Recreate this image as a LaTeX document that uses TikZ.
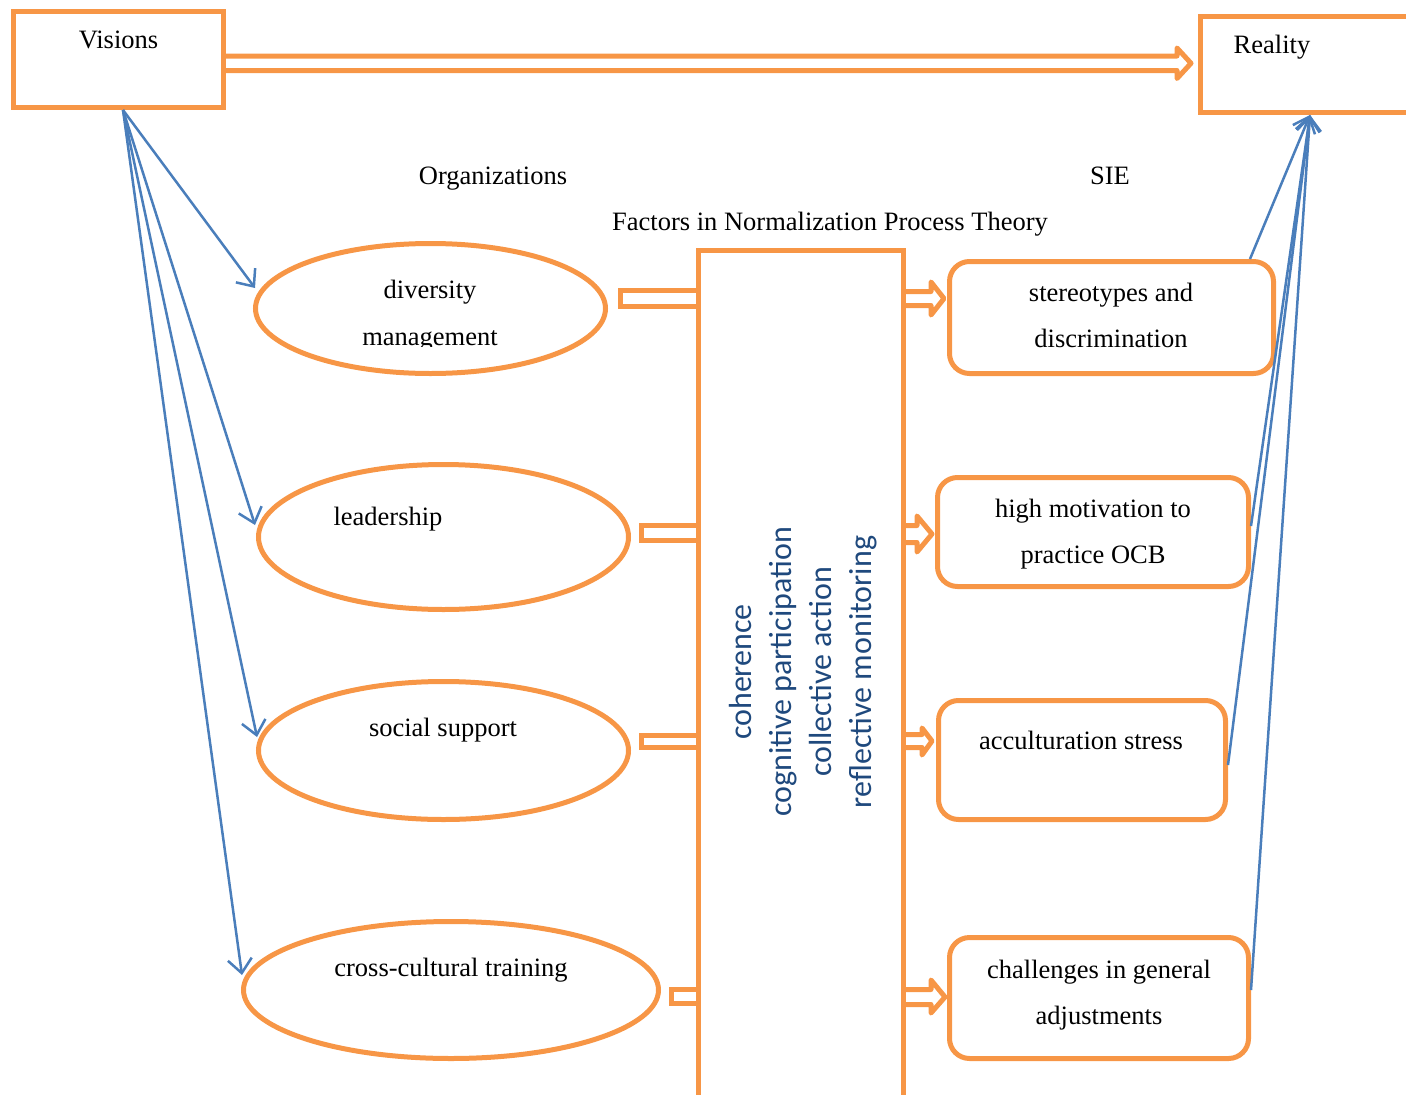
\documentclass[tikz,border=0pt]{standalone}
\usepackage{fontspec}
\setmainfont{Liberation Serif}
\newfontfamily\calib{Carlito}
\usetikzlibrary{shapes.geometric,arrows.meta,calc}
\definecolor{org}{HTML}{F79646}
\definecolor{lnblue}{HTML}{4A7EBB}
\definecolor{txtblue}{HTML}{1F497D}
\begin{document}
\begin{tikzpicture}[x=1pt,y=-1pt,
  box/.style={draw=org,line width=5pt,rectangle,inner sep=0pt},
  rbox/.style={box,rounded corners=20pt},
  ell/.style={draw=org,line width=5pt,ellipse,inner sep=0pt},
  lbl/.style={anchor=base,inner sep=0pt,font=\fontsize{26.5}{32}\selectfont},
  conn/.style={draw=lnblue,line width=2.5pt,-{Straight Barb[length=14pt,width=24pt,line width=2.5pt]}},
  blockarrow/.style={draw=org,line width=5pt,line join=round}
]
\useasboundingbox (0,0) rectangle (1406,1095);
\clip (0,0) rectangle (1406,1095);

% top boxes
\node[box,minimum width=210pt,minimum height=96pt] (vis) at (118.5,59.5) {};
\node[lbl] (visT) at (118.5,48) {Visions};
\node[box,minimum width=219pt,minimum height=96pt] (real) at (1310,64.5) {};
\node[lbl] (realT) at (1272,53) {Reality};

% headings
\node[lbl] (orgT) at (493,184) {Organizations};
\node[lbl] (sieT) at (1110,184) {SIE};
\node[lbl] (facT) at (830,230) {Factors in Normalization Process Theory};

% Visions -> Reality outlined arrow
\draw[blockarrow] (223.5,56) -- (1177,56) -- (1177,48) -- (1191,63.25) -- (1177,78.5) -- (1177,70.5) -- (223.5,70.5);

% central box
\node[box,minimum width=205pt,minimum height=852pt] (npt) at (801,676) {};
\node[rotate=90,align=center,text=txtblue,inner sep=0pt,font=\calib\fontsize{32}{40}\selectfont] (nptT) at (803,672)
  {coherence\\cognitive participation\\collective action\\reflective monitoring};

% ellipses
\node[ell,minimum width=350pt,minimum height=130pt] (dm) at (430.5,308.5) {};
\begin{scope}
\clip (250,250) rectangle (610,346.5);
\node[lbl] (dmT1) at (430,298) {diversity};
\node[lbl] (dmT2) at (430,345) {management};
\end{scope}
\node[ell,minimum width=370pt,minimum height=145pt] (ld) at (443.5,537) {};
\node[lbl] (ldT) at (388,525) {leadership};
\node[ell,minimum width=370pt,minimum height=138pt] (ss) at (443.5,750.5) {};
\node[lbl] (ssT) at (443,736) {social support};
\node[ell,minimum width=415pt,minimum height=137pt] (cc) at (451,990) {};
\node[lbl] (ccT) at (451,976) {cross-cultural training};

% left connectors (ellipse -> central box)
\node[box,minimum width=78pt,minimum height=16pt] (c1) at (659.5,298.5) {};
\node[box,minimum width=57pt,minimum height=15pt] (c2) at (670,533) {};
\node[box,minimum width=57pt,minimum height=12pt] (c3) at (670,741.5) {};
\node[box,minimum width=27pt,minimum height=14pt] (c4) at (685,996.5) {};

% right rounded boxes
\node[rbox,minimum width=324pt,minimum height=112pt] (st) at (1111.5,317.5) {};
\node[lbl] (stT1) at (1111,301) {stereotypes and};
\node[lbl] (stT2) at (1111,347) {discrimination};
\node[rbox,minimum width=311pt,minimum height=109pt] (hm) at (1093,532) {};
\node[lbl] (hmT1) at (1093,517) {high motivation to};
\node[lbl] (hmT2) at (1093,563) {practice OCB};
\node[rbox,minimum width=287pt,minimum height=119pt] (ac) at (1082,760) {};
\node[lbl] (acT) at (1081,749) {acculturation stress};
\node[rbox,minimum width=299pt,minimum height=121pt] (ch) at (1099,998) {};
\node[lbl] (chT1) at (1099,978) {challenges in general};
\node[lbl] (chT2) at (1099,1024) {adjustments};

% right outlined arrows (central box -> boxes)
\draw[blockarrow] (903.5,291.5) -- (931,291.5) -- (931,282) -- (944,298.5) -- (931,315) -- (931,305.5) -- (903.5,305.5);
\draw[blockarrow] (903.5,525.5) -- (917,525.5) -- (917,516) -- (932,534) -- (917,552) -- (917,542.5) -- (903.5,542.5);
\draw[blockarrow] (903.5,734.5) -- (922,734.5) -- (922,728) -- (932,741) -- (922,755) -- (922,747.5) -- (903.5,747.5);
\draw[blockarrow] (903.5,989.5) -- (931,989.5) -- (931,980) -- (945,997) -- (931,1013) -- (931,1004.5) -- (903.5,1004.5);

% blue connectors
\coordinate (vS) at ($(vis.south)+(4.5,0)$);
\coordinate (dmIn) at (255,288);
\coordinate (ldIn) at (255,525);
\coordinate (ssIn) at (257,737);
\coordinate (ccIn) at (242,975);
\draw[conn] (vS) -- (dmIn);
\draw[conn] (vS) -- (ldIn);
\draw[conn] (vS) -- (ssIn);
\draw[conn] (vS) -- (ccIn);

\draw[conn] ($(st.north east)+(-26,0)$) -- (real.south);
\draw[conn] ($(hm.east)+(0,-6)$) -- (real.south);
\draw[conn] ($(ac.east)+(0,5)$) -- (real.south);
\draw[conn] ($(ch.east)+(0,-8)$) -- (real.south);
\end{tikzpicture}
\end{document}
